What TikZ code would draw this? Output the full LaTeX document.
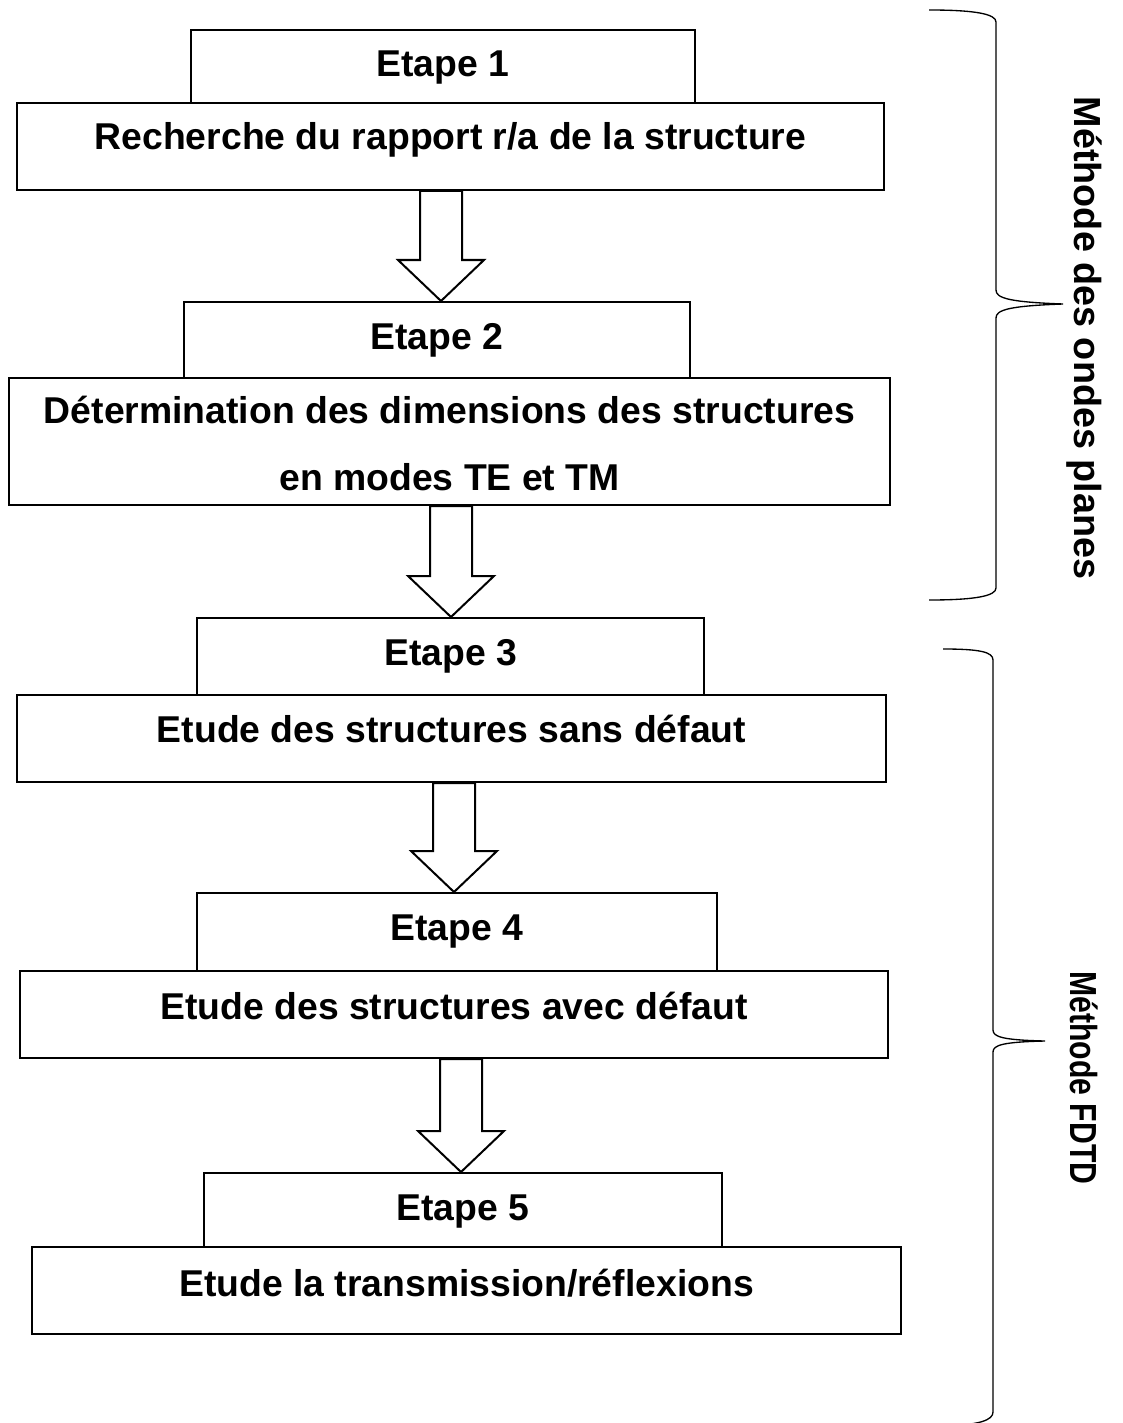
\documentclass[tikz,border=0pt]{standalone}
\usepackage{fontspec}
\setmainfont{Liberation Sans}
\usepackage{tikz}

\begin{document}
\begin{tikzpicture}
[x=.75pt,y=-.75pt,
 etape/.style={draw,line width=1.5pt,inner sep=0pt,text height=35.25pt,text depth=#1,
   font=\bfseries\fontsize{28}{50}\selectfont},
 bloc/.style={draw,line width=1.5pt,inner sep=0pt,align=center,
   font=\bfseries\fontsize{28}{50.25}\selectfont},
 fleche/.style={draw,fill=white,line width=1.5pt,line join=miter},
 accolade/.style={line width=1pt},
 titre/.style={font=\bfseries\fontsize{28.3}{34}\selectfont,rotate=-90,anchor=base}]
\useasboundingbox (0,0) rectangle (1122,1423);

\node[etape=19.5pt,minimum width=378pt] (e1) at (443,66.5) {Etape 1};
\node[bloc,minimum width=650pt,text height=35.25pt,text depth=30pt] (b1) at (450.5,146.5) {Recherche du rapport r/a de la structure};

\node[etape=21.75pt,minimum width=379.5pt] (e2) at (437,340) {Etape 2};
\node[bloc,minimum width=660.75pt,text height=84pt,text depth=11.25pt] (b2) at (449.5,441.5) {D\'etermination des dimensions des structures\\en modes TE et TM};

\node[etape=22.5pt,minimum width=380pt] (e3) at (450.5,656.5) {Etape 3};
\node[bloc,minimum width=651.75pt,text height=35.25pt,text depth=30pt] (b3) at (451.5,738.5) {Etude des structures sans d\'efaut};

\node[etape=23.25pt,minimum width=390pt] (e4) at (457,932) {Etape 4};
\node[bloc,minimum width=651pt,text height=36pt,text depth=29.25pt] (b4) at (454,1014.5) {Etude des structures avec d\'efaut};

\node[etape=20.25pt,minimum width=388.5pt] (e5) at (463,1210) {Etape 5};
\node[bloc,minimum width=651.75pt,text height=36.75pt,text depth=28.5pt] (b5) at (466.5,1290.5) {Etude la transmission/r\'eflexions};

% fleches entre les etapes
\foreach \from/\to/\ax in {b1/e2/441,b2/e3/451,b3/e4/454,b4/e5/461}
{
\path (\ax,0 |- \to.north) ++(0,-41) coordinate (h);
\draw[fleche] (\ax,0 |- \to.north) -- (\ax+43,0 |- h) -- (\ax+21,0 |- h) -- (\ax+21,0 |- \from.south)
  -- (\ax-21,0 |- \from.south) -- (\ax-21,0 |- h) -- (\ax-43,0 |- h) -- cycle;
}

% accolades
\draw[accolade] (929,10) .. controls (975,10) and (996,14) .. (996,22) -- (996,290)
  .. controls (996,298) and (1008,302) .. (1063,304) .. controls (1008,306) and (996,310) .. (996,318)
  -- (996,588) .. controls (996,596) and (975,600) .. (929,600);
\draw[accolade] (943,649) .. controls (980,649) and (993,652) .. (993,660) -- (993,1030)
  .. controls (993,1037) and (1003,1040) .. (1045,1041) .. controls (1003,1042) and (993,1045) .. (993,1052)
  -- (993,1412) .. controls (993,1420) and (980,1425) .. (943,1426);

\node[titre] (ondes) at (1074,338) {M\'ethode des ondes planes};
\node[titre] (fdtd) at (1070,1078) {\scalebox{0.8}[1]{M\'ethode FDTD}};
\end{tikzpicture}
\end{document}
